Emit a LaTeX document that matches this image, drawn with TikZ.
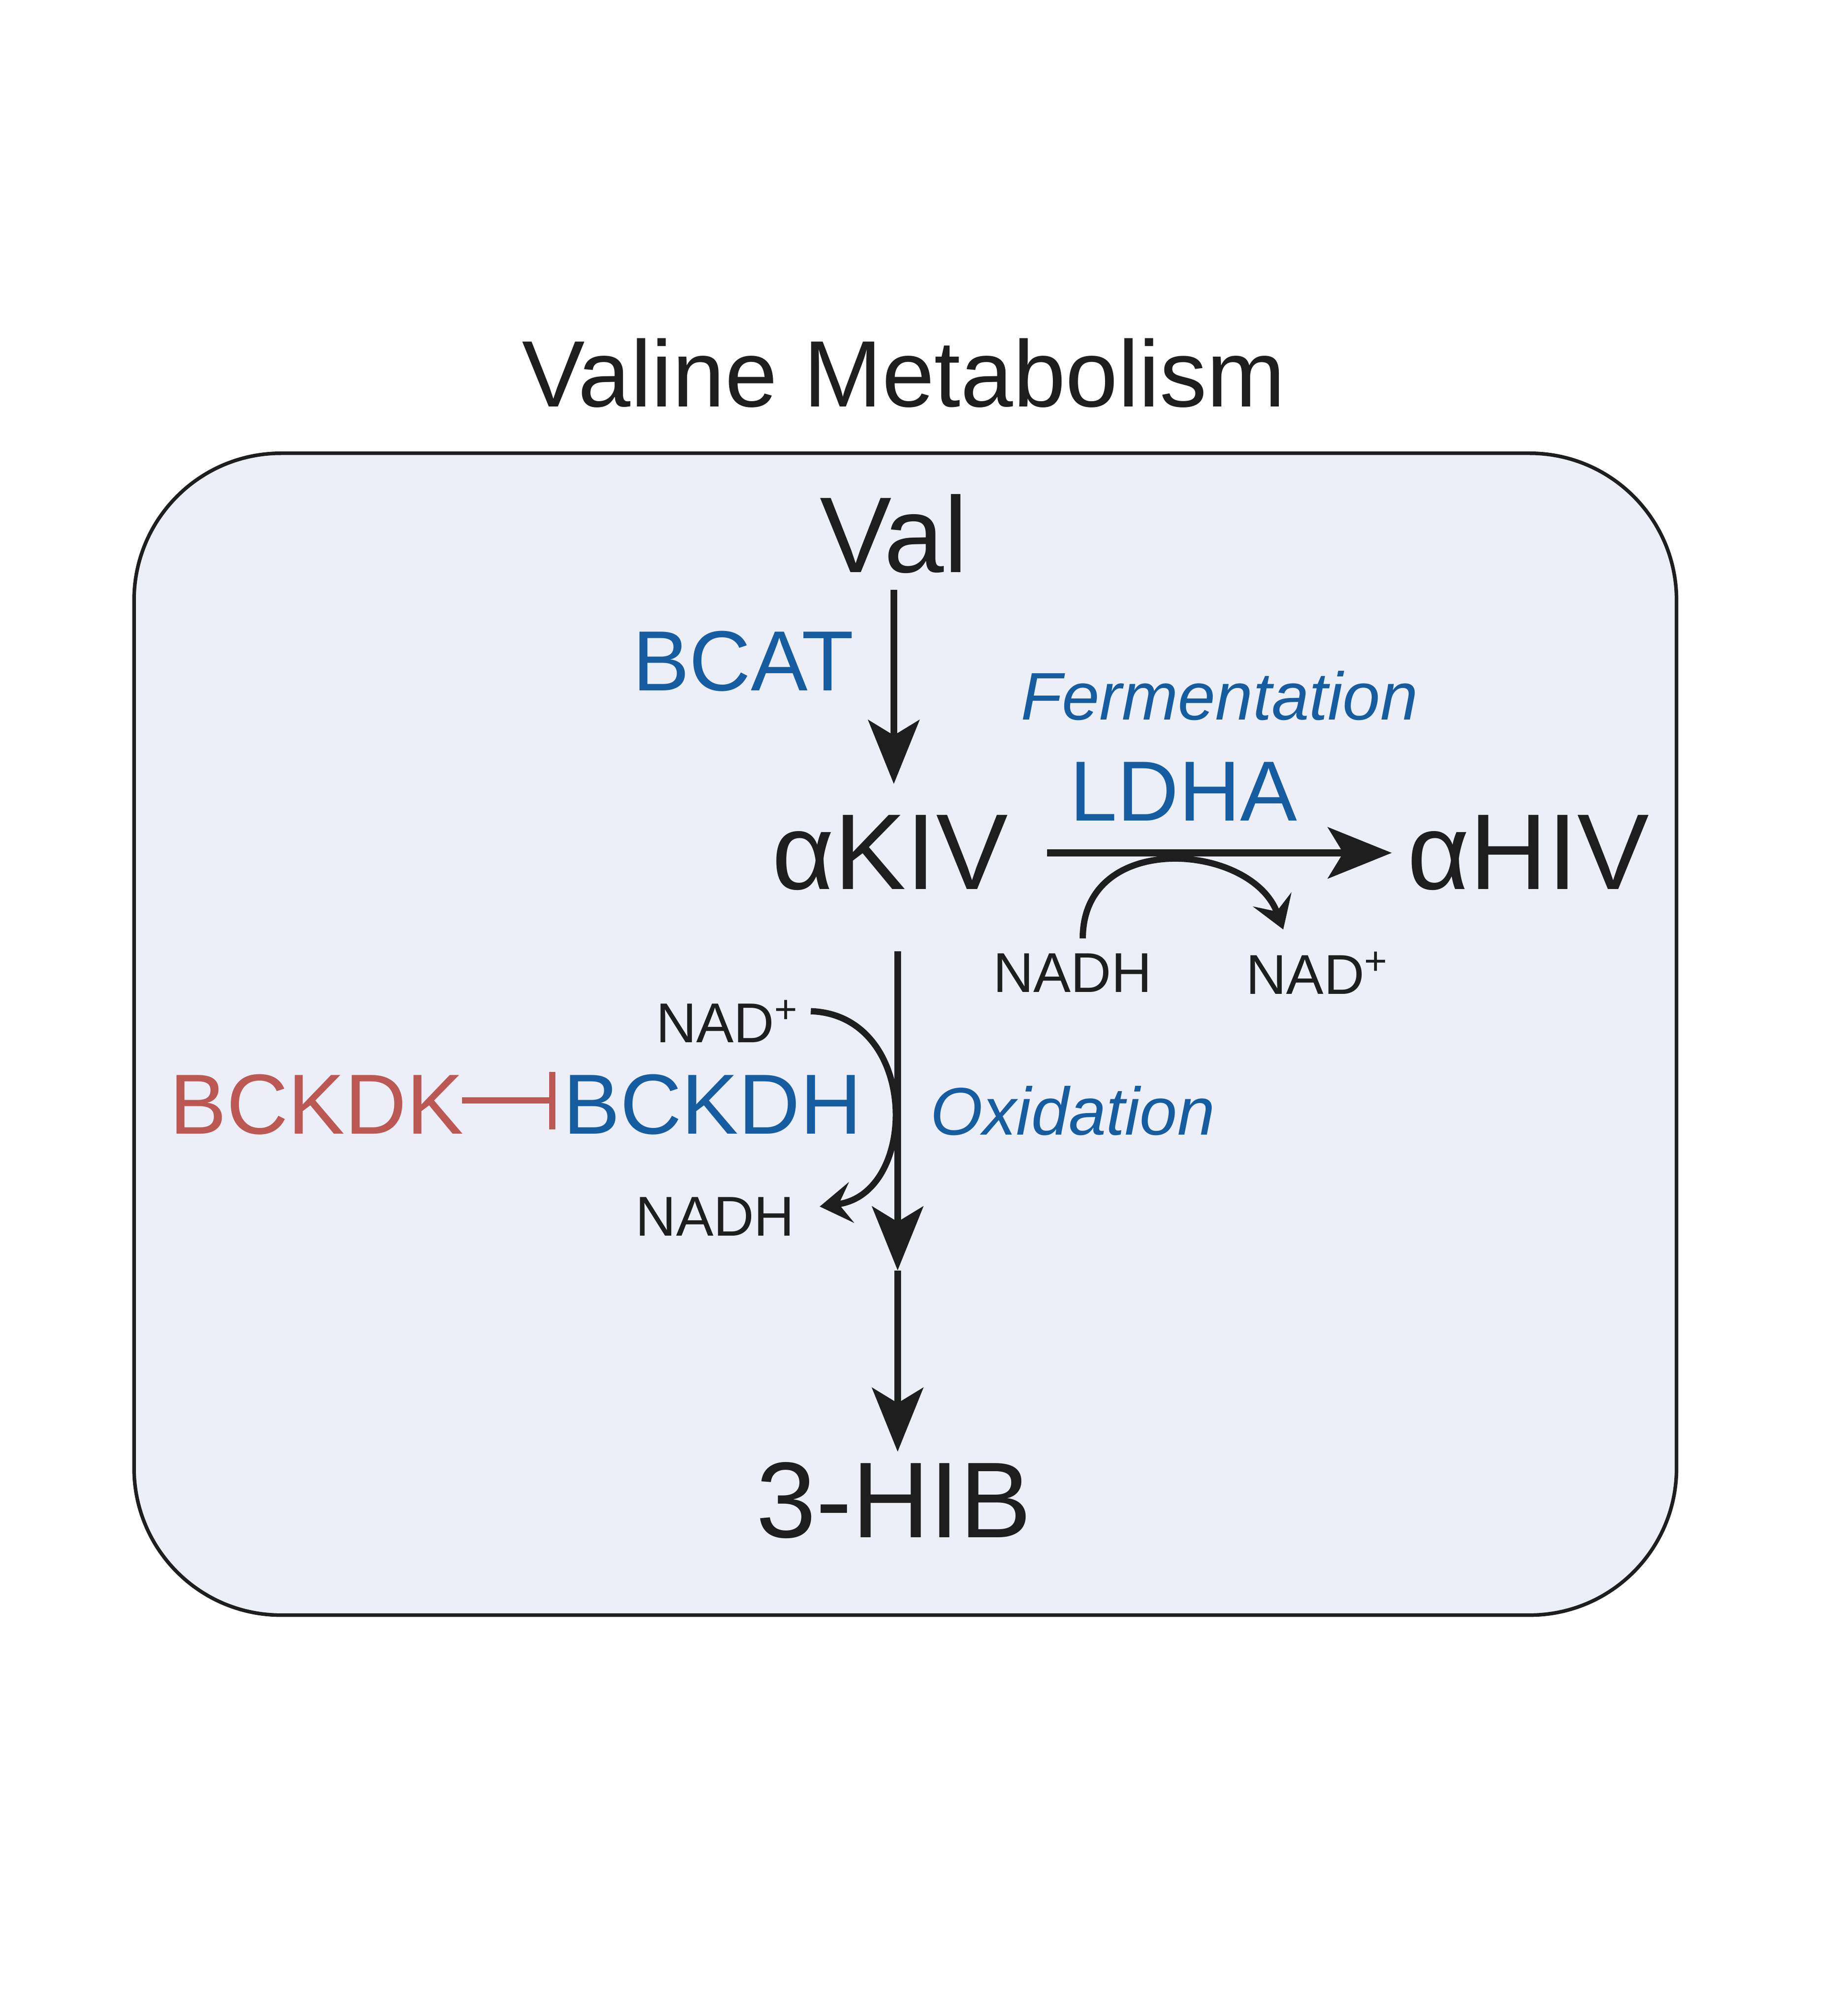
\documentclass[tikz,border=0pt]{standalone}
\usepackage{fontspec}
\setmainfont{Liberation Sans}
\usetikzlibrary{arrows.meta}
\definecolor{enzblue}{RGB}{22,92,160}
\definecolor{kinred}{RGB}{188,88,84}
\definecolor{cellbg}{RGB}{236,239,247}
\definecolor{ink}{RGB}{30,30,30}
\begin{document}
\begin{tikzpicture}[x=0.01cm,y=-0.01cm,color=ink,
                    met/.style={font=\fontsize{24}{28}\selectfont},
                    enz/.style={text=enzblue,font=\fontsize{19}{23}\selectfont},
                    path/.style={text=enzblue,font=\fontsize{15}{18}\selectfont\itshape},
                    cof/.style={font=\fontsize{12.5}{15}\selectfont},
                    rxn/.style={line width=1.5pt,-{Stealth[length=0.5cm,width=0.4cm,inset=0.12cm]}},
                    side/.style={line width=1.4pt,-{Stealth[length=0.25cm,width=0.32cm,inset=0.1cm]}}
                   ]
  \useasboundingbox (0,0) rectangle (1440,1579);
  \fill[white] (0,0) rectangle (1440,1579);
  \draw[fill=cellbg,line width=0.8pt,rounded corners=1.15cm] (105,355) rectangle (1313,1265);
  \node[font=\fontsize{21}{25}\selectfont] (title) at (708,292) {Valine Metabolism};
  \node[met] (val) at (700,418) {Val};
  \node[met] (akiv) at (697,668) {αKIV};
  \node[met] (ahiv) at (1197,668) {αHIV};
  \node[met] (hib) at (700,1175) {3-HIB};
  \node[enz] (bcat) at (582,518) {BCAT};
  \node[enz] (ldha) at (927,620) {LDHA};
  \node[enz] (bckdh) at (558,865) {BCKDH};
  \node[enz,text=kinred] (bckdk) at (248,865) {BCKDK};
  \node[path] (ferm) at (955,545) {Fermentation};
  \node[path] (oxid) at (840,870) {Oxidation};
  \node[cof] (nadh1) at (840,762) {NADH};
  \node[cof] (nad1) at (1032,762) {NAD\textsuperscript{+}};
  \node[cof] (nad2) at (570,800) {NAD\textsuperscript{+}};
  \node[cof] (nadh2) at (560,953) {NADH};
  \coordinate (mid) at (703,995);
  \draw[rxn] (700,462) -- (700,614);
  \draw[rxn] (820,668) -- (1090,668);
  \draw[rxn] (703,745) -- (mid);
  \draw[rxn] (mid) -- (703,1137);
  \draw[side] (848,735) .. controls (848,650) and (980,660) .. (1005,728);
  \draw[side] (635,792) .. controls (720,795) and (720,935) .. (642,945);
  \draw[kinred,line width=1.4pt,-{Bar[width=0.45cm]}] (362,862) -- (435,862);
\end{tikzpicture}
\end{document}
